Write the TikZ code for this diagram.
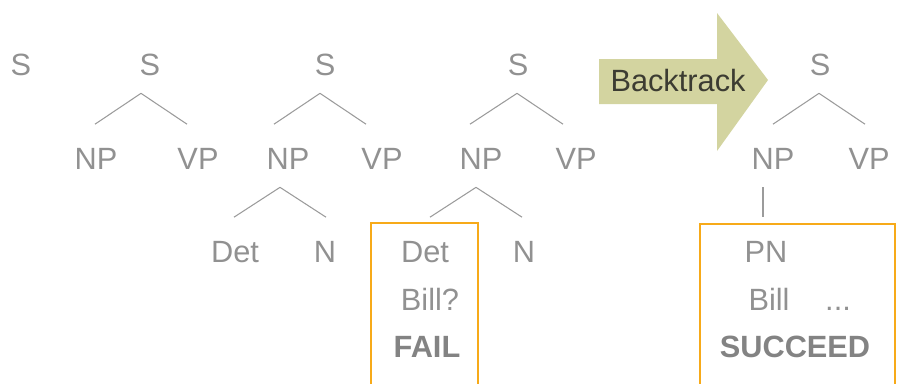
\documentclass[tikz,border=0pt]{standalone}
\usepackage{fontspec}
\setmainfont{Liberation Sans}
\usetikzlibrary{positioning}

\definecolor{catgray}{RGB}{145,145,145}
\definecolor{linegray}{RGB}{155,155,155}
\definecolor{tryorange}{RGB}{247,170,25}
\definecolor{arrowolive}{RGB}{211,212,160}
\definecolor{arrowtext}{RGB}{60,60,50}

% parent -> child branch, x offsets given in px
\newcommand{\branch}[4]{%
  \draw[branch] ([xshift=#3*0.02cm, yshift=-0.34cm]#1.south) -- ([xshift=#4*0.02cm, yshift=0.47cm]#2.north);}

\begin{document}
\begin{tikzpicture}[
  x=0.02cm, y=-0.02cm,
  cat/.style={inner sep=0pt, text height=12.5pt, text depth=0pt, text=catgray,
              font=\fontsize{17.5}{20}\selectfont},
  verdict/.style={cat, text=catgray!90!black, font=\fontsize{17.5}{20}\selectfont\bfseries},
  branch/.style={draw=linegray, line width=0.6pt},
  tryframe/.style={draw=tryorange, line width=1.2pt},
  label/.style={inner sep=0pt, text height=12.5pt, text depth=0pt, text=arrowtext,
                font=\fontsize{17.5}{20}\selectfont},
]
\useasboundingbox (0,0) rectangle (898,383);
\clip (0,0) rectangle (898,383);

% === Step 1 ===
\node[cat] (s1) at (21,65) {S};

% === Step 2 ===
\node[cat] (s2)  at (150,65)  {S};
\node[cat] (np2) at (96,159)  {NP};
\node[cat] (vp2) at (198,159) {VP};
\branch{s2}{np2}{-9}{-1}
\branch{s2}{vp2}{-9}{-11}

% === Step 3 ===
\node[cat] (s3)   at (325,65)  {S};
\node[cat] (np3)  at (288,159) {NP};
\node[cat] (vp3)  at (382,159) {VP};
\node[cat] (det3) at (235,252) {Det};
\node[cat] (n3)   at (325,252) {N};
\branch{s3}{np3}{-5}{-14}
\branch{s3}{vp3}{-5}{-16}
\branch{np3}{det3}{-8}{-1}
\branch{np3}{n3}{-8}{1}

% === Step 4: wrong guess ===
\node[cat] (s4)    at (518,65)  {S};
\node[cat] (np4)   at (481,159) {NP};
\node[cat] (vp4)   at (576,159) {VP};
\node[cat] (det4)  at (425,252) {Det};
\node[cat] (n4)    at (524,252) {N};
\node[cat] (bill4) at (430,300) {Bill?};
\node[verdict] (fail) at (427,347) {FAIL};
\branch{s4}{np4}{-1}{-11}
\branch{s4}{vp4}{-1}{-13}
\branch{np4}{det4}{-5}{5}
\branch{np4}{n4}{-5}{-2}
\draw[tryframe] (371,223) rectangle (478,400);

% === Backtrack arrow ===
\fill[arrowolive] (599,59) -- (717,59) -- (717,13) -- (768,80)
  -- (717,151) -- (717,104) -- (599,104) -- cycle;
\node[label] (backtrack) at (678,81) {Backtrack};

% === Step 5: second guess ===
\node[cat] (s5)    at (820,65)  {S};
\node[cat] (np5)   at (773,159) {NP};
\node[cat] (vp5)   at (869,159) {VP};
\node[cat] (pn5)   at (766,252) {PN};
\node[cat] (bill5) at (769,300) {Bill};
\node[cat] (dots5) at (838,300) {...};
\node[verdict] (succeed) at (795,347) {SUCCEED};
\branch{s5}{np5}{-1}{0}
\branch{s5}{vp5}{-1}{-4}
\branch{np5}{pn5}{-10}{-3}
\draw[tryframe] (700,224) rectangle (895,400);

\end{tikzpicture}
\end{document}
